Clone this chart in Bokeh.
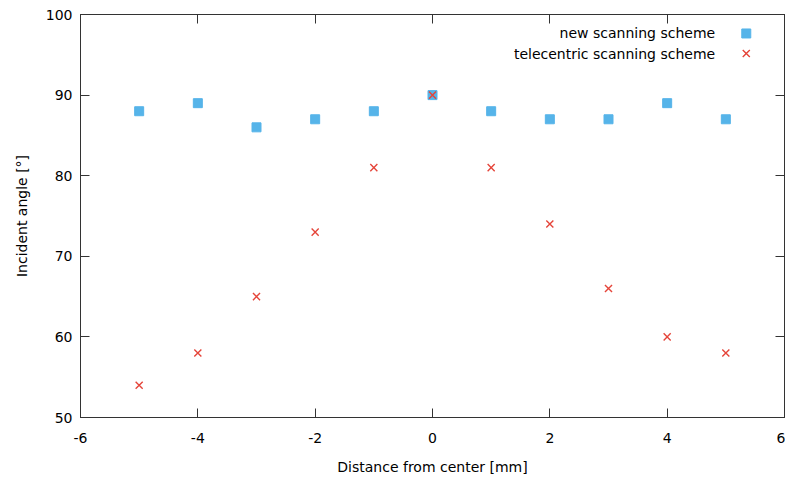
from bokeh.plotting import figure
from bokeh.models import LinearAxis, Range1d, FixedTicker, CustomJSTickFormatter
from bokeh.core.properties import value
from bokeh.embed import file_html
from bokeh.resources import INLINE

# ---- data ----
distance_mm = [-5, -4, -3, -2, -1, 0, 1, 2, 3, 4, 5]
new_scheme = [88, 89, 86, 87, 88, 90, 88, 87, 87, 89, 87]
telecentric_scheme = [54, 58, 65, 73, 81, 90, 81, 74, 66, 60, 58]
x_ticks = [-6, -4, -2, 0, 2, 4, 6]
y_ticks = [50, 60, 70, 80, 90, 100]
series_names = ["new scanning scheme", "telecentric scanning scheme"]

BLUE = "#56B4E9"
RED = "#E5453A"
FONT = "DejaVu Sans"
FS = "14px"
FRAME = "#333333"

XMIN, XMAX, YMIN, YMAX = -6, 6, 50, 100

p = figure(width=785, height=478, output_backend="svg", toolbar_location=None,
           x_range=Range1d(XMIN, XMAX), y_range=Range1d(YMIN, YMAX),
           min_border_left=80, min_border_right=1, min_border_top=14, min_border_bottom=61,
           x_axis_label="Distance from center [mm]", y_axis_label="Incident angle [°]")
p.grid.visible = False
p.outline_line_color = FRAME
p.outline_line_width = 1
p.background_fill_color = "white"
p.border_fill_color = "white"

for ax, ticks in ((p.xaxis[0], x_ticks), (p.yaxis[0], y_ticks)):
    ax.ticker = FixedTicker(ticks=ticks)
    ax.major_label_overrides = {t: str(t) for t in ticks}
    ax.minor_tick_line_color = None
    ax.major_tick_in = 9
    ax.major_tick_out = 0
    ax.major_tick_line_color = FRAME
    ax.axis_line_color = FRAME
    ax.major_label_text_font = FONT
    ax.major_label_text_font_size = FS
    ax.major_label_text_color = "black"
    ax.axis_label_text_font = FONT
    ax.axis_label_text_font_size = FS
    ax.axis_label_text_font_style = "normal"
    ax.axis_label_text_color = "black"

p.xaxis[0].major_label_standoff = 15
p.xaxis[0].axis_label_standoff = 13
p.yaxis[0].major_label_standoff = 8
p.yaxis[0].axis_label_standoff = 13

# mirrored ticks on top and right (no labels)
top = LinearAxis(ticker=FixedTicker(ticks=x_ticks))
right = LinearAxis(ticker=FixedTicker(ticks=y_ticks))
for ax in (top, right):
    ax.formatter = CustomJSTickFormatter(code="return ''")
    ax.minor_tick_line_color = None
    ax.major_tick_in = 9
    ax.major_tick_out = 0
    ax.major_tick_line_color = FRAME
    ax.axis_line_color = FRAME
    ax.major_label_standoff = 0
p.add_layout(top, "above")
p.add_layout(right, "right")

# data
p.scatter(distance_mm, new_scheme, marker="square", size=9,
          fill_color=BLUE, line_color=BLUE)
p.scatter(distance_mm, telecentric_scheme, marker="x", size=10,
          line_color=RED, line_width=1.4)

# key (gnuplot style: text right-aligned, sample to the right)
kx_text = XMIN + 0.9015 * (XMAX - XMIN)
kx_mark = XMIN + 0.9457 * (XMAX - XMIN)
ky = [YMIN + 0.9529 * (YMAX - YMIN), YMIN + 0.9032 * (YMAX - YMIN)]
p.text([kx_text, kx_text], ky, text=series_names, text_align="right",
       text_baseline="middle", text_font=value(FONT), text_font_size=FS,
       text_color="black")
p.scatter([kx_mark], [ky[0]], marker="square", size=9, fill_color=BLUE, line_color=BLUE)
p.scatter([kx_mark], [ky[1]], marker="x", size=10, line_color=RED, line_width=1.4)

open("out.html", "w").write(file_html(p, INLINE))
